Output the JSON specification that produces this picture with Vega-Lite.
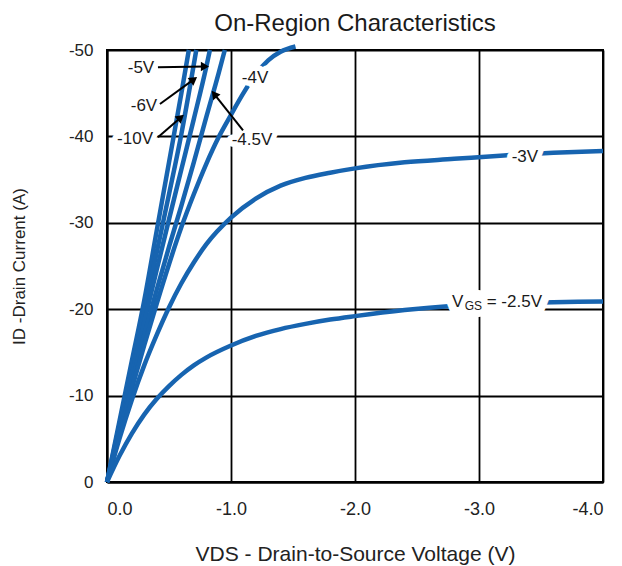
{
  "$schema": "https://vega.github.io/schema/vega-lite/v6.json",
  "width": 496,
  "height": 432,
  "autosize": "none",
  "padding": {"left": 107, "top": 50, "right": 19, "bottom": 84},
  "background": "white",
  "title": {"text": "On-Region Characteristics", "fontSize": 24, "font": "Liberation Sans", "fontWeight": "normal", "color": "#1a1a1a", "offset": 2, "frame": "group", "anchor": "middle"},
  "config": {
    "view": {"stroke": "black", "strokeWidth": 2},
    "axis": {
      "gridColor": "black", "gridWidth": 1.8, "gridOpacity": 1,
      "domainColor": "black", "domainWidth": 2,
      "ticks": false,
      "labelFont": "Liberation Sans", "labelFontSize": 17, "labelColor": "#222",
      "titleFont": "Liberation Sans", "titleFontSize": 17, "titleFontWeight": "normal", "titleColor": "#222"
    }
  },
  "datasets": {
    "curves": [
      {"vgs": "-10V", "vds": 0, "id": 0}, {"vgs": "-10V", "vds": -0.1, "id": -7}, {"vgs": "-10V", "vds": -0.2, "id": -14}, {"vgs": "-10V", "vds": -0.3, "id": -21}, {"vgs": "-10V", "vds": -0.4, "id": -29}, {"vgs": "-10V", "vds": -0.5, "id": -37}, {"vgs": "-10V", "vds": -0.6, "id": -45}, {"vgs": "-10V", "vds": -0.66, "id": -50},
      {"vgs": "-6V", "vds": 0, "id": 0}, {"vgs": "-6V", "vds": -0.1, "id": -6.6}, {"vgs": "-6V", "vds": -0.2, "id": -13.2}, {"vgs": "-6V", "vds": -0.3, "id": -19.8}, {"vgs": "-6V", "vds": -0.4, "id": -26.5}, {"vgs": "-6V", "vds": -0.5, "id": -33.3}, {"vgs": "-6V", "vds": -0.6, "id": -40.3}, {"vgs": "-6V", "vds": -0.72, "id": -50},
      {"vgs": "-5V", "vds": 0, "id": 0}, {"vgs": "-5V", "vds": -0.1, "id": -6.2}, {"vgs": "-5V", "vds": -0.2, "id": -12.4}, {"vgs": "-5V", "vds": -0.3, "id": -18.5}, {"vgs": "-5V", "vds": -0.4, "id": -24.5}, {"vgs": "-5V", "vds": -0.5, "id": -30.4}, {"vgs": "-5V", "vds": -0.6, "id": -36.2}, {"vgs": "-5V", "vds": -0.7, "id": -42}, {"vgs": "-5V", "vds": -0.8, "id": -48}, {"vgs": "-5V", "vds": -0.83, "id": -50},
      {"vgs": "-4.5V", "vds": 0, "id": 0}, {"vgs": "-4.5V", "vds": -0.1, "id": -5.8}, {"vgs": "-4.5V", "vds": -0.2, "id": -11.5}, {"vgs": "-4.5V", "vds": -0.3, "id": -17}, {"vgs": "-4.5V", "vds": -0.4, "id": -22.2}, {"vgs": "-4.5V", "vds": -0.5, "id": -27.2}, {"vgs": "-4.5V", "vds": -0.6, "id": -32}, {"vgs": "-4.5V", "vds": -0.7, "id": -37}, {"vgs": "-4.5V", "vds": -0.8, "id": -42.2}, {"vgs": "-4.5V", "vds": -0.9, "id": -47.3}, {"vgs": "-4.5V", "vds": -0.95, "id": -50},
      {"vgs": "-4V", "vds": 0, "id": 0}, {"vgs": "-4V", "vds": -0.1, "id": -5.5}, {"vgs": "-4V", "vds": -0.2, "id": -10.8}, {"vgs": "-4V", "vds": -0.3, "id": -15.8}, {"vgs": "-4V", "vds": -0.4, "id": -20.6}, {"vgs": "-4V", "vds": -0.5, "id": -25.2}, {"vgs": "-4V", "vds": -0.6, "id": -29.5}, {"vgs": "-4V", "vds": -0.7, "id": -33.3}, {"vgs": "-4V", "vds": -0.8, "id": -36.8}, {"vgs": "-4V", "vds": -0.9, "id": -39.9}, {"vgs": "-4V", "vds": -1.0, "id": -42.5}, {"vgs": "-4V", "vds": -1.1, "id": -45}, {"vgs": "-4V", "vds": -1.2, "id": -47.2}, {"vgs": "-4V", "vds": -1.3, "id": -48.8}, {"vgs": "-4V", "vds": -1.4, "id": -49.8}, {"vgs": "-4V", "vds": -1.52, "id": -50.4},
      {"vgs": "-3V", "vds": 0, "id": 0}, {"vgs": "-3V", "vds": -0.1, "id": -5}, {"vgs": "-3V", "vds": -0.2, "id": -9.5}, {"vgs": "-3V", "vds": -0.3, "id": -13.5}, {"vgs": "-3V", "vds": -0.4, "id": -17}, {"vgs": "-3V", "vds": -0.5, "id": -20.2}, {"vgs": "-3V", "vds": -0.6, "id": -23}, {"vgs": "-3V", "vds": -0.7, "id": -25.4}, {"vgs": "-3V", "vds": -0.8, "id": -27.5}, {"vgs": "-3V", "vds": -1.0, "id": -30.6}, {"vgs": "-3V", "vds": -1.2, "id": -32.8}, {"vgs": "-3V", "vds": -1.4, "id": -34.3}, {"vgs": "-3V", "vds": -1.6, "id": -35.2}, {"vgs": "-3V", "vds": -1.8, "id": -35.8}, {"vgs": "-3V", "vds": -2.0, "id": -36.3}, {"vgs": "-3V", "vds": -2.4, "id": -37}, {"vgs": "-3V", "vds": -2.8, "id": -37.4}, {"vgs": "-3V", "vds": -3.2, "id": -37.8}, {"vgs": "-3V", "vds": -3.6, "id": -38.1}, {"vgs": "-3V", "vds": -4.0, "id": -38.3},
      {"vgs": "-2.5V", "vds": 0, "id": 0}, {"vgs": "-2.5V", "vds": -0.1, "id": -3}, {"vgs": "-2.5V", "vds": -0.2, "id": -5.6}, {"vgs": "-2.5V", "vds": -0.3, "id": -7.8}, {"vgs": "-2.5V", "vds": -0.4, "id": -9.6}, {"vgs": "-2.5V", "vds": -0.5, "id": -11.1}, {"vgs": "-2.5V", "vds": -0.6, "id": -12.4}, {"vgs": "-2.5V", "vds": -0.7, "id": -13.5}, {"vgs": "-2.5V", "vds": -0.8, "id": -14.4}, {"vgs": "-2.5V", "vds": -1.0, "id": -15.8}, {"vgs": "-2.5V", "vds": -1.2, "id": -16.9}, {"vgs": "-2.5V", "vds": -1.4, "id": -17.7}, {"vgs": "-2.5V", "vds": -1.6, "id": -18.3}, {"vgs": "-2.5V", "vds": -1.8, "id": -18.8}, {"vgs": "-2.5V", "vds": -2.0, "id": -19.2}, {"vgs": "-2.5V", "vds": -2.4, "id": -19.9}, {"vgs": "-2.5V", "vds": -2.8, "id": -20.4}, {"vgs": "-2.5V", "vds": -3.2, "id": -20.7}, {"vgs": "-2.5V", "vds": -3.6, "id": -20.8}, {"vgs": "-2.5V", "vds": -4.0, "id": -20.9}
    ],
    "labels": [
      {"label": "-5V", "vds": -0.274, "id": -47.9},
      {"label": "-6V", "vds": -0.298, "id": -43.5},
      {"label": "-10V", "vds": -0.226, "id": -39.7},
      {"label": "-4.5V", "vds": -1.169, "id": -39.6},
      {"label": "-4V", "vds": -1.194, "id": -46.8},
      {"label": "-3V", "vds": -3.37, "id": -37.6}
    ],
    "vgslabel": [
      {"label": "V", "vds": -2.827, "id": -20.8},
      {"label": "= -2.5V", "vds": -3.285, "id": -20.8}
    ],
    "sub": [
      {"label": "GS", "vds": -2.955, "id": -20.8}
    ],
    "arrows": [
      {"arrow": "-5V", "x1": -0.411, "y1": -48.0, "x2": -0.79, "y2": -48.1},
      {"arrow": "-6V", "x1": -0.427, "y1": -43.75, "x2": -0.70, "y2": -46.6},
      {"arrow": "-10V", "x1": -0.411, "y1": -39.9, "x2": -0.595, "y2": -42.2},
      {"arrow": "-4.5V", "x1": -1.097, "y1": -40.7, "x2": -0.865, "y2": -44.9}
    ]
  },
  "layer": [
    {
      "data": {"name": "curves"},
      "mark": {"type": "line", "color": "#1764b0", "strokeWidth": 4.5, "strokeCap": "butt", "interpolate": "monotone"},
      "encoding": {
        "x": {"field": "vds", "type": "quantitative", "scale": {"domain": [0, -4]},
          "axis": {"values": [0, -1, -2, -3, -4], "labelExpr": "replace(format(datum.value, '.1f'), '\u2212', '-')", "labelFontSize": 18, "labelPadding": 18, "title": "VDS - Drain-to-Source Voltage (V)", "titleFontSize": 21, "titlePadding": 25}},
        "y": {"field": "id", "type": "quantitative", "scale": {"domain": [0, -50]},
          "axis": {"values": [0, -10, -20, -30, -40, -50], "labelExpr": "replace(format(datum.value, 'd'), '\u2212', '-')", "labelPadding": 14, "title": "ID -Drain Current (A)", "titlePadding": 40}},
        "detail": {"field": "vgs"}
      }
    },
    {
      "data": {"name": "labels"},
      "mark": {"type": "text", "font": "Liberation Sans", "fontSize": 17, "stroke": "white", "strokeWidth": 11, "strokeJoin": "round", "fill": "white", "baseline": "middle", "align": "center"},
      "encoding": {"x": {"field": "vds", "type": "quantitative"}, "y": {"field": "id", "type": "quantitative"}, "text": {"field": "label"}}
    },
    {
      "data": {"name": "vgslabel"},
      "mark": {"type": "text", "font": "Liberation Sans", "fontSize": 17, "stroke": "white", "strokeWidth": 16, "strokeJoin": "round", "fill": "white", "baseline": "middle", "align": "center"},
      "encoding": {"x": {"field": "vds", "type": "quantitative"}, "y": {"field": "id", "type": "quantitative"}, "text": {"field": "label"}}
    },
    {
      "data": {"name": "sub"},
      "mark": {"type": "text", "font": "Liberation Sans", "fontSize": 12, "stroke": "white", "strokeWidth": 18, "strokeJoin": "round", "fill": "white", "baseline": "middle", "align": "center", "dy": 2},
      "encoding": {"x": {"field": "vds", "type": "quantitative"}, "y": {"field": "id", "type": "quantitative"}, "text": {"field": "label"}}
    },
    {
      "data": {"name": "labels"},
      "mark": {"type": "text", "font": "Liberation Sans", "fontSize": 17, "color": "#1a1a1a", "baseline": "middle", "align": "center"},
      "encoding": {"x": {"field": "vds", "type": "quantitative"}, "y": {"field": "id", "type": "quantitative"}, "text": {"field": "label"}}
    },
    {
      "data": {"name": "vgslabel"},
      "mark": {"type": "text", "font": "Liberation Sans", "fontSize": 17, "color": "#1a1a1a", "baseline": "middle", "align": "center"},
      "encoding": {"x": {"field": "vds", "type": "quantitative"}, "y": {"field": "id", "type": "quantitative"}, "text": {"field": "label"}}
    },
    {
      "data": {"name": "sub"},
      "mark": {"type": "text", "font": "Liberation Sans", "fontSize": 12, "color": "#1a1a1a", "baseline": "middle", "align": "center", "dy": 4},
      "encoding": {"x": {"field": "vds", "type": "quantitative"}, "y": {"field": "id", "type": "quantitative"}, "text": {"field": "label"}}
    },
    {
      "data": {"name": "arrows"},
      "mark": {"type": "rule", "color": "black", "strokeWidth": 2},
      "encoding": {"x": {"field": "x1", "type": "quantitative"}, "y": {"field": "y1", "type": "quantitative"}, "x2": {"field": "x2"}, "y2": {"field": "y2"}}
    },
    {
      "data": {"name": "arrows"},
      "transform": [{"filter": "datum.arrow == '-5V'"}],
      "mark": {"type": "point", "shape": "triangle-right", "filled": true, "color": "black", "size": 90, "angle": 0, "opacity": 1},
      "encoding": {"x": {"field": "x2", "type": "quantitative"}, "y": {"field": "y2", "type": "quantitative"}}
    },
    {
      "data": {"name": "arrows"},
      "transform": [{"filter": "datum.arrow == '-6V'"}],
      "mark": {"type": "point", "shape": "triangle-right", "filled": true, "color": "black", "size": 90, "angle": 323, "opacity": 1},
      "encoding": {"x": {"field": "x2", "type": "quantitative"}, "y": {"field": "y2", "type": "quantitative"}}
    },
    {
      "data": {"name": "arrows"},
      "transform": [{"filter": "datum.arrow == '-10V'"}],
      "mark": {"type": "point", "shape": "triangle-right", "filled": true, "color": "black", "size": 90, "angle": 319, "opacity": 1},
      "encoding": {"x": {"field": "x2", "type": "quantitative"}, "y": {"field": "y2", "type": "quantitative"}}
    },
    {
      "data": {"name": "arrows"},
      "transform": [{"filter": "datum.arrow == '-4.5V'"}],
      "mark": {"type": "point", "shape": "triangle-right", "filled": true, "color": "black", "size": 90, "angle": 232, "opacity": 1},
      "encoding": {"x": {"field": "x2", "type": "quantitative"}, "y": {"field": "y2", "type": "quantitative"}}
    }
  ]
}
